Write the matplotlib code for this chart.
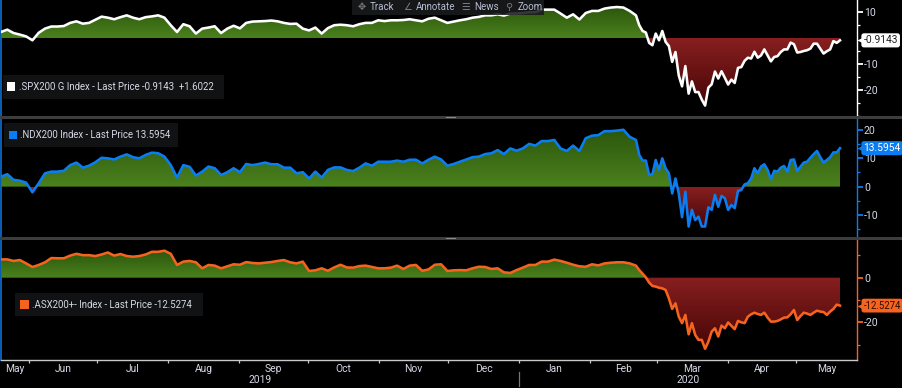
import numpy as np
import pandas as pd
import matplotlib
matplotlib.use("Agg")
import matplotlib.pyplot as plt
import matplotlib.dates as mdates
from matplotlib.path import Path
from matplotlib.patches import Rectangle

plt.rcParams['font.family'] = ['Roboto', 'DejaVu Sans']

W, H = 902, 388

# Series values
spx_calm = [2.3,3.2,1.9,1.3,0.6,-0.9,2,3.6,4.4,4.4,4.6,5.8,6.4,5.5,5.8,7,8.2,7.8,7.2,8,8.7,7.8,7.2,8,8.3,8.7,7.8,4.9,2.3,5.3,
            4.5,1.7,3.6,4,4.5,1.9,3.6,4.7,3.7,5.8,6.3,6.4,6.5,6.7,6.4,5.8,5.4,5.5,3.6,2.9,
            4,1.7,3.8,4.9,5.1,4.9,4.5,5.3,5.8,5.8,6.8,6.5,6.8,6.8,6.9,7.2,6.8,6.4,7.4,7.8,6.8,5.8,6.3,6.8,7.2,7.8,8.1,8.7,8.7,9.1,
            8.6,9.4,9.4,9.6,9.9,9.9,10.9,10.9,10.9,9.4,7.8,9.1,7.1,9.6,10.4,10.4,11.3,
            11.7,11.9,11.7,10.4]
spx_crash = [8.7,4.9,2.7,2.1,-1.9,-2.8,1.7,-0.9,2.7,-1.5,-3.1,-9.2,-5.4,-14.4,-18.6,-10.8,-21.4,-16.7,-20.8,-20.8,-23.7,-26,
             -19.1,-17.8,-12.9,-15.6,-12.8,-15.3,-17.9,-16,-17.3,-11.5,-11.2,-8.8,-7.6,-7.9,-5.3,-7.6,-6.7,-4.4,-6.7,-9,-7.3,-7,
             -5.4,-4.4,-4.4,-1.8,-2.4,-5.6,-5.4,-5,-4.7,-4.1,-2.2,-2.2,-4.1,-6,-5.1,-4.4,-1.2,-1.9,-0.9143]
ndx_calm = [3.5,4.4,2.4,2.1,1.4,-2,1.2,4.7,5.3,5.3,5.6,7.6,8.5,6.7,7.4,8.6,10.2,10,9.6,10.6,11.4,10.4,10,11.2,12,11.8,10.6,7.6,3.2,7.6,
            7,3.9,5.3,7.1,6.5,4.1,5.1,6.5,5.1,8,7.6,8,8.5,7.9,7.9,6.7,6.7,4.7,5.1,2.9,
            5.3,3.2,5.9,6.8,6.8,5.9,5.5,6.7,8.2,7.4,8.8,8.8,8.8,9.2,8.8,9.5,9.5,8.2,9.5,10.6,9.6,7.4,8,8.8,9.6,10.4,10.6,11.5,11.8,12.9,
            11.5,13.5,12.7,13.5,15.1,14.5,16.1,16.1,16.5,13.5,12.6,14.5,12.6,17.1,18,18.2,19.6,
            19.6,19.8,20.1,17.6]
ndx_crash = [16.5,11.2,9.2,9.2,4.1,4.4,9.4,5.9,10,6.5,4.7,-2.4,2.9,-2.4,-10.8,-1.8,-14.1,-8.2,-11.8,-10.6,-14.1,-14.1,
             -7.3,-8.2,-2.9,-7.1,-3.3,-4.1,-8.2,-6.5,-7.6,-1.5,-1.2,0.8,1.2,2.9,6.5,4.7,7.1,7.9,5.9,2.6,5.6,5.3,
             6.7,7.3,5.3,9.4,9.6,5.5,7.1,8.5,8.8,10.2,11.5,12.6,10.4,8.5,9.4,10.4,12.1,12.1,13.5954]
asx_calm = [8.2,8.2,7.5,7.9,6.4,4.8,5.7,6.9,8.8,8.7,8.7,9.9,10.7,10.1,10.1,9.7,10.4,11.3,9.9,10.6,9.7,9.4,9.7,10.4,11.6,11.6,12.1,10.7,5.7,7.2,
            7.5,6.9,4.2,5.7,5.4,4.2,5.1,6,5.8,7,6.6,6.4,6.7,7,7.5,7.9,6.9,6.4,7.2,3,
            3.3,4.2,3.1,4.6,5.8,4.6,4.5,5.2,5.4,4.8,4.2,4.2,4.5,5.4,3.9,5.4,5.7,3.1,3.7,5.8,6,3,3.3,3.4,3.3,4.2,4.9,4.8,3.9,4.2,
            2.4,2.1,3.4,4.5,5.7,5.7,7.2,7.2,8.1,7.5,6.7,5.8,5.1,4.9,6,5.5,6.4,
            6.7,6.9,6.9,6.4]
asx_crash = [5.4,3.4,1.8,0.1,-2.2,-3.7,-4,-4.5,-4.8,-5.5,-9.3,-14,-11.5,-17.5,-20.4,-16.7,-25.4,-20.4,-25.7,-27.9,-27.9,-31.9,
             -28.7,-24.2,-22.7,-26.4,-21.5,-22.7,-20.1,-21.6,-23.1,-19.4,-20,-20.4,-17.5,-16.4,-15.7,-16.3,-16.7,-15.7,-17.9,-19.7,-19.7,-19.4,
             -18.7,-17.9,-17.8,-16.4,-14.5,-19,-17.2,-15.7,-16.1,-16.7,-15.7,-14.8,-15.2,-15.4,-16.7,-15.2,-14,-12.1,-12.5274]

month_starts = ['2019-06-01','2019-07-01','2019-08-01','2019-09-01','2019-10-01','2019-11-01','2019-12-01',
                '2020-01-01','2020-02-01','2020-03-01','2020-04-01','2020-05-01']
month_labels = ['May','Jun','Jul','Aug','Sep','Oct','Nov','Dec','Jan','Feb','Mar','Apr','May']
legend_spx = '.SPX200 G Index - Last Price -0.9143  +1.6022'
legend_ndx = '.NDX200 Index - Last Price 13.5954'
legend_asx = '.ASX200+- Index - Last Price -12.5274'
tools = [('\u2725', 'Track', 358, 370), ('\u2220', 'Annotate', 403, 416), ('\u2630', 'News', 461, 474), ('\u26B2', 'Zoom', 505, 518)]

start = mdates.date2num(pd.Timestamp('2019-05-20'))
split = mdates.date2num(pd.Timestamp('2020-02-21'))
end = mdates.date2num(pd.Timestamp('2020-05-20'))
right = mdates.date2num(pd.Timestamp('2020-05-27 10:00'))


def series_x(calm, crash):
    return np.concatenate([np.linspace(start, split, len(calm), endpoint=False),
                           np.linspace(split, end, len(crash))])


def gradient(c_from, c_to):
    a = np.array(matplotlib.colors.to_rgb(c_from))
    b = np.array(matplotlib.colors.to_rgb(c_to))
    t = np.linspace(0, 1, 128)[:, None]
    return (a * (1 - t) + b * t)[:, None, :]


fig = plt.figure(figsize=(W / 100, H / 100), dpi=100, facecolor='black')


def px_axes(x0, y0, x1, y1):
    return fig.add_axes([x0 / W, 1 - y1 / H, (x1 - x0) / W, (y1 - y0) / H], facecolor='black')


def fig_rect(x0, y0, x1, y1, color, z=5, alpha=1):
    fig.add_artist(Rectangle((x0 / W, 1 - y1 / H), (x1 - x0) / W, (y1 - y0) / H, transform=fig.transFigure,
                             facecolor=color, edgecolor='none', zorder=z, alpha=alpha))


def fig_text(x, y, s, color='#d5d9e6', size=6.95, ha='left', z=7):
    fig.text(x / W, 1 - y / H, s, color=color, fontsize=size, ha=ha, va='center', zorder=z)


def panel(box, ylim, calm, crash, color, majors, minors, major_labels, flag_text, flag_fc, flag_tc, flag_size=7.4):
    ax = px_axes(*box)
    x = series_x(calm, crash)
    y = np.array(calm + crash, dtype=float)
    fb = ax.fill_between(x, 0, y, where=y >= 0, interpolate=True, color='none', linewidth=0)
    fr = ax.fill_between(x, 0, y, where=y <= 0, interpolate=True, color='none', linewidth=0)
    green = ax.imshow(gradient('#2c570d', '#4b811d'), extent=[start, end, 0, y.max()], aspect='auto',
                      origin='upper', interpolation='bilinear', zorder=1)
    red = ax.imshow(gradient('#871f20', '#470505'), extent=[start, end, y.min(), 0], aspect='auto',
                    origin='upper', interpolation='bilinear', zorder=1)
    green.set_clip_path(Path.make_compound_path(*fb.get_paths()), transform=ax.transData)
    red.set_clip_path(Path.make_compound_path(*fr.get_paths()), transform=ax.transData)
    ax.plot(x, y, color=color, lw=1.85, zorder=3, solid_joinstyle='round')
    ax.set_xlim(start, right)
    ax.set_ylim(*ylim)

    for s in ('top', 'bottom'):
        ax.spines[s].set_visible(False)
    ax.spines['left'].set_color('#0a6fd8')
    ax.spines['left'].set_linewidth(1.2)
    ax.spines['right'].set_color(color)
    ax.spines['right'].set_linewidth(1.0)
    ax.yaxis.tick_right()
    ax.set_yticks(majors)
    ax.set_yticklabels(major_labels)
    ax.set_yticks(minors, minor=True)
    ax.tick_params(axis='y', which='major', length=4, width=1.3, color=color, labelcolor='#d5d9e6',
                   labelsize=7.6, pad=1)
    ax.tick_params(axis='y', which='minor', length=2.5, width=0.9, color=color)
    ax.set_xticks([])

    trans = ax.get_yaxis_transform()
    ax.plot([1.0045], [y[-1]], marker='<', ms=6, color=flag_fc, mec='none', transform=trans, clip_on=False, zorder=6)
    ax.text(1.0075, y[-1], flag_text, color=flag_tc, fontsize=flag_size, va='center', ha='left', transform=trans,
            clip_on=False, zorder=7,
            bbox=dict(boxstyle='round,pad=0.2,rounding_size=0.25', fc=flag_fc, ec='none'))
    return ax


ax1 = panel((1, 0, 857, 116), (-29.6, 14.6), spx_calm, spx_crash, '#ffffff',
            [10, -10, -20], [5, -5, -15, -25, -30], ['10', '-10', '-20'], '-0.9143', '#ffffff', '#222222')
ax2 = panel((1, 119, 857, 237), (-17.8, 23.9), ndx_calm, ndx_crash, '#0a7df2',
            [20, 10, 0, -10], [15, 5, -5, -15], ['20', '10', '0', '-10'], '13.5954', '#0a7df2', '#ffffff')
ax3 = panel((1, 240, 857, 359.5), (-36.7, 16.9), asx_calm, asx_crash, '#f5631f',
            [0, -20], [10, -10, -30], ['0', '-20'], '-12.5274', '#f5631f', '#2a0d00', flag_size=6.9)

# Bottom date axis
ms = [mdates.date2num(pd.Timestamp(d)) for d in month_starts]
edges = [start] + ms + [right]
mids = [(a + b) / 2 for a, b in zip(edges[:-1], edges[1:])]
ax3.spines['bottom'].set_visible(True)
ax3.spines['bottom'].set_color('#c8c8c8')
ax3.spines['bottom'].set_linewidth(1.0)
ax3.set_xticks(ms)
ax3.set_xticklabels([])
ax3.set_xticks(mids, minor=True)
ax3.set_xticklabels(month_labels, minor=True)
ax3.tick_params(axis='x', which='major', length=2, width=0.9, color='#c8c8c8')
ax3.tick_params(axis='x', which='minor', length=0, labelcolor='#d5d9e6', labelsize=7.4, pad=3)
jan = mdates.date2num(pd.Timestamp('2020-01-01'))
xtr = ax3.get_xaxis_transform()
ax3.text((start + jan) / 2, -0.175, '2019', transform=xtr, color='#d5d9e6', fontsize=7.4, ha='center', va='center')
ax3.text((jan + right) / 2, -0.175, '2020', transform=xtr, color='#d5d9e6', fontsize=7.4, ha='center', va='center')
ax3.plot([jan, jan], [-0.105, -0.225], transform=xtr, color='#777777', lw=0.9, clip_on=False)

# Panel dividers and handles
fig_rect(0, 116, 902, 119, '#3d3d3d')
fig_rect(0, 237, 902, 240, '#3d3d3d')
fig_rect(446, 117, 456, 118, '#8a8a8a', z=6)
fig_rect(446, 238, 456, 239, '#8a8a8a', z=6)

# Legends
fig_rect(3, 75, 224, 99, '#111214')
fig_rect(7, 82, 15, 91, '#ffffff', z=6)
fig_text(19, 87.5, legend_spx)
fig_rect(4, 123, 178, 147, '#111214')
fig_rect(9, 131, 17, 139, '#0a7df2', z=6)
fig_text(20, 135, legend_ndx)
fig_rect(15, 293, 203, 316, '#111214')
fig_rect(20, 300, 29, 309, '#f5631f', z=6)
fig_text(32, 305, legend_asx)

# Toolbar
fig_rect(352, 0, 544, 15, '#1a1b1d', alpha=0.88)
for icon, label, ix, tx in tools:
    fig_text(ix, 7, icon, color='#777c85', size=7)
    fig_text(tx, 7, label, color='#b4bdd2', size=7)

fig.savefig('out.png', dpi=100, facecolor='black')
